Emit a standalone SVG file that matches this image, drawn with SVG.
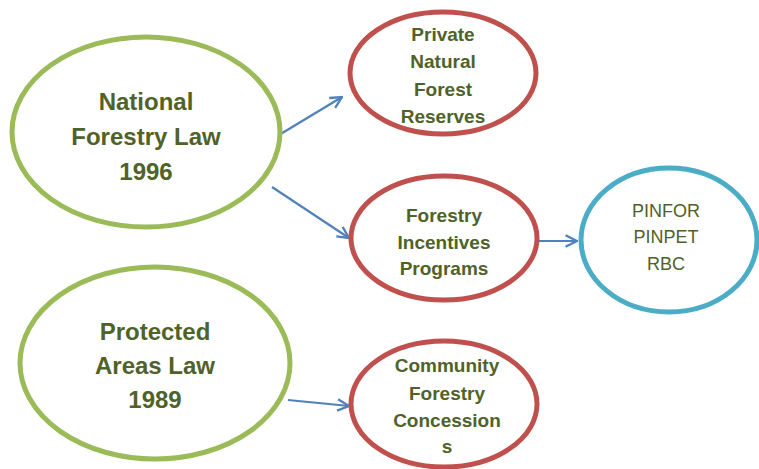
<svg xmlns="http://www.w3.org/2000/svg" width="759" height="469" viewBox="0 0 759 469">
<defs>
<style>
.g{fill:#fff;stroke:#9BBB59;stroke-width:5}
.r{fill:#fff;stroke:#C0504D;stroke-width:5}
.b{fill:#fff;stroke:#4BACC6;stroke-width:5}
.tl{font-family:"Liberation Sans",Arial,sans-serif;font-weight:bold;font-size:24px;fill:#4F6228;text-anchor:middle}
.ts{font-family:"Liberation Sans",Arial,sans-serif;font-weight:bold;font-size:19px;fill:#4F6228;text-anchor:middle}
.tn{font-family:"Liberation Sans",Arial,sans-serif;font-size:18px;fill:#4F6228;text-anchor:middle}
.c{stroke:#4F81BD;stroke-width:2.2;fill:none;marker-end:url(#ah)}
</style>
<marker id="ah" viewBox="0 0 10 10" refX="9" refY="5" markerWidth="6.5" markerHeight="6.5" orient="auto" markerUnits="strokeWidth">
<path d="M1,1 L9,5 L1,9" fill="none" stroke="#4F81BD" stroke-width="1.6"/>
</marker>
</defs>
<rect width="759" height="469" fill="#fff"/>
<g id="connectors">
<line class="c" x1="279" y1="135" x2="342" y2="97"/>
<line class="c" x1="272" y1="187" x2="349" y2="238"/>
<line class="c" x1="538" y1="241" x2="577" y2="241"/>
<line class="c" x1="288" y1="400" x2="349" y2="406"/>
</g>
<g id="national">
<ellipse class="g" cx="146" cy="132" rx="134" ry="95"/>
<text class="tl" x="146" y="110">National</text>
<text class="tl" x="146" y="145">Forestry Law</text>
<text class="tl" x="146" y="180">1996</text>
</g>
<g id="private">
<ellipse class="r" cx="443" cy="73" rx="93" ry="61"/>
<text class="ts" x="443" y="41">Private</text>
<text class="ts" x="443" y="68">Natural</text>
<text class="ts" x="443" y="96">Forest</text>
<text class="ts" x="443" y="123">Reserves</text>
</g>
<g id="incentives">
<ellipse class="r" cx="444" cy="238" rx="93" ry="62"/>
<text class="ts" x="444" y="222">Forestry</text>
<text class="ts" x="444" y="249">Incentives</text>
<text class="ts" x="444" y="275">Programs</text>
</g>
<g id="pinfor">
<ellipse class="b" cx="669" cy="240" rx="88" ry="72"/>
<text class="tn" x="666" y="217">PINFOR</text>
<text class="tn" x="666" y="243">PINPET</text>
<text class="tn" x="666" y="270">RBC</text>
</g>
<g id="protected">
<ellipse class="g" cx="155" cy="363" rx="135" ry="96"/>
<text class="tl" x="155" y="340">Protected</text>
<text class="tl" x="155" y="374">Areas Law</text>
<text class="tl" x="155" y="408">1989</text>
</g>
<g id="community">
<ellipse class="r" cx="444" cy="404" rx="93" ry="63"/>
<text class="ts" x="447" y="372">Community</text>
<text class="ts" x="447" y="400">Forestry</text>
<text class="ts" x="447" y="427">Concession</text>
<text class="ts" x="447" y="453">s</text>
</g>
</svg>
